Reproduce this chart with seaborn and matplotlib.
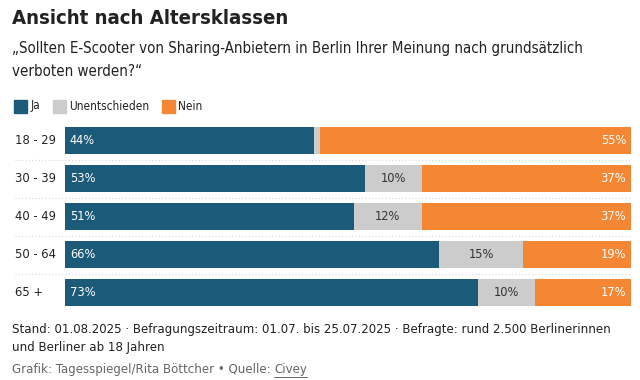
import matplotlib.pyplot as plt
import matplotlib.transforms as mtransforms
from matplotlib import font_manager
import pandas as pd
import seaborn as sns

# --- Daten -------------------------------------------------------------------
altersklassen = ["18 - 29", "30 - 39", "40 - 49", "50 - 64", "65 +"]
ja = [44, 53, 51, 66, 73]
unentschieden = [1, 10, 12, 15, 10]
nein = [55, 37, 37, 19, 17]

FARBE_JA = "#1b5a78"
FARBE_UNENT = "#cccccc"
FARBE_NEIN = "#f58634"
TEXT = "#222222"

sns.set_theme(style="white")

# schmale Schrift suchen, sonst Liberation Sans
schmal = [f for f in font_manager.fontManager.ttflist
          if "Narrow" in f.name or "Condensed" in f.name
          or f.stretch in ("condensed", "semi-condensed")]
if schmal:
    FAMILIE, STRETCH = schmal[0].name, schmal[0].stretch
else:
    FAMILIE, STRETCH = "Liberation Sans", "normal"
plt.rcParams["font.family"] = [FAMILIE, "DejaVu Sans"]
plt.rcParams["font.stretch"] = STRETCH

df = pd.DataFrame({
    "Alter": altersklassen,
    "Ja": ja,
    "Unentschieden": unentschieden,
    "Nein": nein,
})
df["bis_unent"] = df["Ja"] + df["Unentschieden"]
df["gesamt"] = df["bis_unent"] + df["Nein"]

W, H = 640, 380
fig = plt.figure(figsize=(6.4, 3.8), dpi=100)
renderer = fig.canvas.get_renderer()


def passend(t, breite, max_size=None):
    """Schriftgröße so setzen, dass der Text etwa `breite` Pixel breit ist."""
    t.set_fontsize(10)
    w = t.get_window_extent(renderer).width
    size = 10 * breite / w
    if max_size:
        size = min(size, max_size)
    t.set_fontsize(size)
    return size


def groesse(text, breite, **kw):
    probe = fig.text(0, 0, text, **kw)
    size = passend(probe, breite)
    probe.remove()
    return size


ax = fig.add_axes([65 / W, 1 - 311.5 / H, 566 / W, 190 / H])

# gestapelte Balken: von hinten nach vorne zeichnen
for col, farbe in [("gesamt", FARBE_NEIN), ("bis_unent", FARBE_UNENT), ("Ja", FARBE_JA)]:
    sns.barplot(data=df, x=col, y="Alter", orient="h", color=farbe,
                width=27 / 38, saturation=1, ax=ax, linewidth=0)

ax.set_xlim(0, 100)
ax.set_ylim(4.5, -0.5)
ax.set_xlabel("")
ax.set_ylabel("")
ax.set_xticks([])
ax.set_yticks([])
sns.despine(ax=ax, left=True, bottom=True)

# Beschriftungen
gr_kat = groesse("18 - 29", 41)
gr_wert = groesse("44%", 25.5)

pad = 5 / 566 * 100
for i, row in df.iterrows():
    ax.text(-50 / 566 * 100, i, row["Alter"], ha="left", va="center",
            fontsize=gr_kat, color=TEXT, clip_on=False)
    ax.text(pad, i, f"{row['Ja']}%", ha="left", va="center",
            fontsize=gr_wert, color="white")
    if row["Unentschieden"] >= 5:
        ax.text(row["Ja"] + row["Unentschieden"] / 2, i, f"{row['Unentschieden']}%",
                ha="center", va="center", fontsize=gr_wert, color="#333333")
    ax.text(100 - pad, i, f"{row['Nein']}%", ha="right", va="center",
            fontsize=gr_wert, color="white")

# gepunktete Trennlinien
trans = mtransforms.blended_transform_factory(ax.transAxes, ax.transData)
for y in [0.5, 1.5, 2.5, 3.5]:
    ax.plot([-50 / 566, 1.0], [y, y], transform=trans, color="#d8d8d8",
            lw=0.8, ls=(0, (1, 2)), clip_on=False)

# Titel, Frage, Legende
titel = fig.text(12 / W, 1 - 18 / H, "Ansicht nach Altersklassen", ha="left",
                 va="center", fontweight="bold", color=TEXT)
passend(titel, 276)
frage1 = fig.text(12 / W, 1 - 48 / H,
                  "\u201eSollten E-Scooter von Sharing-Anbietern in Berlin Ihrer Meinung nach "
                  "grunds\u00e4tzlich", ha="left", va="center", color=TEXT)
gr_frage = passend(frage1, 568)
fig.text(12 / W, 1 - 71 / H, "verboten werden?\u201c",
         ha="left", va="center", fontsize=gr_frage, color=TEXT)

gr_leg = groesse("Unentschieden", 80)
legende = [("Ja", FARBE_JA, 14), ("Unentschieden", FARBE_UNENT, 53), ("Nein", FARBE_NEIN, 162)]
for name, farbe, x in legende:
    fig.patches.append(plt.Rectangle((x / W, 1 - 113 / H), 13 / W, 13 / H,
                                     color=farbe, transform=fig.transFigure, figure=fig))
    fig.text((x + 16) / W, 1 - 106 / H, name, ha="left", va="center",
             fontsize=gr_leg, color=TEXT)

# Fußnote
fuss1 = fig.text(12 / W, 1 - 330 / H,
                 "Stand: 01.08.2025 \u00b7 Befragungszeitraum: 01.07. bis 25.07.2025 \u00b7 "
                 "Befragte: rund 2.500 Berlinerinnen",
                 ha="left", va="center", color=TEXT)
gr_fuss = passend(fuss1, 598)
fig.text(12 / W, 1 - 348 / H, "und Berliner ab 18 Jahren",
         ha="left", va="center", fontsize=gr_fuss, color=TEXT)
quelle = fig.text(12 / W, 1 - 369 / H,
                  "Grafik: Tagesspiegel/Rita B\u00f6ttcher \u2022 Quelle: ",
                  ha="left", va="center", fontsize=gr_fuss, color="#666666")
bb = quelle.get_window_extent(renderer)
civey = fig.text(bb.x1 / W, 1 - 369 / H, "Civey", ha="left", va="center",
                 fontsize=gr_fuss, color="#666666")
cb = civey.get_window_extent(renderer)
fig.lines.append(plt.Line2D([cb.x0 / W, cb.x1 / W], [(cb.y0 - 1) / H] * 2,
                            color="#666666", lw=0.7, transform=fig.transFigure))

fig.savefig("out.png", dpi=100)
